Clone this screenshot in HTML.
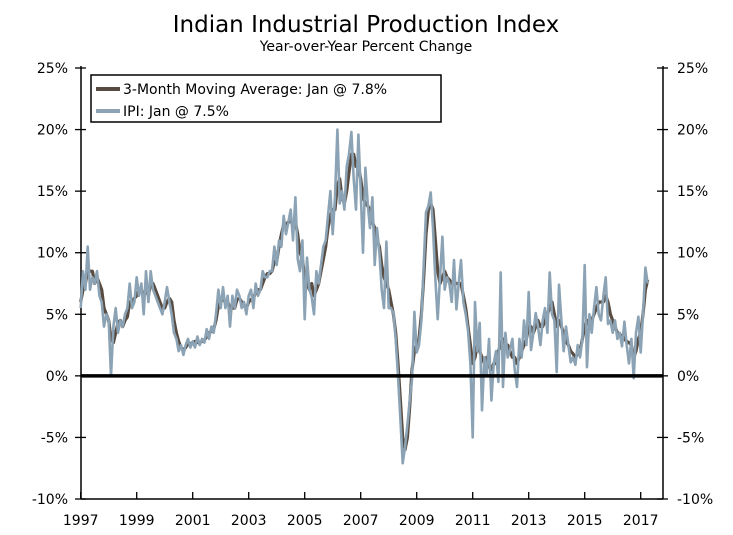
<!DOCTYPE html>
<html><head><meta charset="utf-8"><style>
body{margin:0;background:#fff;width:733px;height:535px;overflow:hidden}
svg{display:block;font-family:"DejaVu Sans","Liberation Sans",sans-serif}
</style></head><body>
<svg id="chart" width="733" height="535">
<text x="366" y="32" text-anchor="middle" font-size="23" fill="#000">Indian Industrial Production Index</text>
<text x="366" y="51" text-anchor="middle" font-size="14" fill="#000">Year-over-Year Percent Change</text>
<g id="axes"></g>
<g id="series"></g>
<g>
<rect x="91" y="75" width="350" height="47" fill="#fff" stroke="#000" stroke-width="1.5"/>
<line x1="96" y1="89" x2="120" y2="89" stroke="#584b41" stroke-width="4"/>
<text x="123" y="94" font-size="14">3-Month Moving Average: Jan @ 7.8%</text>
<line x1="96" y1="111" x2="120" y2="111" stroke="#8ba3b4" stroke-width="4"/>
<text x="123" y="116" font-size="14">IPI: Jan @ 7.5%</text>
</g>
</svg>
<script>
const yTicks=[25,20,15,10,5,0,-5,-10];
const xTickYears=[1997,1999,2001,2003,2005,2007,2009,2011,2013,2015,2017];
const ipiValues=[
5.5,8.5,7.0,10.5,7.0,8.0,7.5,8.5,6.5,6.0,4.0,5.0,
4.5,0.0,4.0,5.5,3.5,4.5,4.0,5.0,5.5,7.5,5.5,6.0,
8.0,6.5,7.5,5.0,8.5,6.0,8.5,7.0,6.5,6.0,5.5,5.0,
6.0,7.2,6.0,5.0,3.5,3.0,2.0,2.5,1.7,2.5,3.0,2.3,
2.8,2.3,3.2,2.5,3.0,2.7,3.8,3.0,4.0,3.5,5.0,7.0,
5.5,7.2,5.5,6.5,4.0,6.5,5.5,7.0,6.5,5.5,6.0,5.0,
6.5,7.0,5.5,7.5,6.5,7.0,8.5,8.0,8.0,8.5,8.5,10.5,
9.0,11.0,10.5,13.0,11.5,12.5,13.5,11.0,14.5,9.5,8.5,11.0,
4.6,9.6,7.0,6.4,5.0,8.5,7.5,9.0,10.5,11.0,13.0,15.0,
11.5,14.5,20.0,14.0,15.0,13.5,17.0,18.0,19.8,16.0,13.5,19.6,
15.0,10.0,16.9,14.0,12.0,14.5,9.0,12.0,10.0,7.0,5.5,10.9,
5.5,5.5,5.1,3.0,0.0,-3.5,-7.1,-5.8,-4.0,-2.0,-0.3,5.2,
1.9,2.5,4.5,9.0,13.3,13.8,14.9,12.0,7.8,4.6,8.0,11.3,
7.0,8.0,7.5,6.0,9.4,5.4,7.5,9.4,6.0,5.0,3.7,1.0,
-5.0,6.0,2.0,4.3,-2.8,1.5,0.0,3.0,-2.0,1.0,2.0,-0.5,
8.4,-0.9,3.5,1.5,2.1,3.0,0.5,-0.9,3.0,1.5,4.5,2.5,
6.8,2.1,3.5,5.1,4.0,2.5,4.5,5.5,3.5,8.4,5.0,4.5,
0.3,7.4,4.5,2.0,4.0,2.5,1.1,1.5,0.9,2.5,1.5,3.0,
9.0,0.7,5.0,3.5,5.5,7.2,5.0,4.5,6.5,8.0,4.2,4.5,
3.5,4.5,3.0,3.5,2.4,4.4,2.5,1.0,3.0,-0.2,3.5,4.8,
1.9,5.0,8.8,7.5];
const maValues=[
6,7,7.5,8.5,8.5,8.5,7.5,8,7.5,7,5.5,5,
4.5,3,2.7,3.5,4.3,4.5,4,4.5,4.8,6,6,6.3,
6.5,7,7,6.5,7,6.5,7.5,7.5,7,6.5,6,5.5,
5.5,6,6.3,6,4.5,3.5,2.8,2.3,2.1,2.3,2.6,2.6,
2.7,2.8,2.7,2.7,2.8,2.9,3.2,3.5,3.6,3.8,4.5,5.7,
6,6.2,6,6,5.5,5.5,5.5,6.2,6.3,6,5.7,5.5,
6,6.2,6.3,6.8,7,7,7.5,8,8.3,8.3,8.5,9.3,
9.3,10.5,11.5,12.3,12.3,12.5,12.5,12.5,12.5,11.5,10,9.5,
8,7.5,7,7.5,6.5,7,7.5,8.5,9.5,10.5,12,13,
13.5,13.5,15.5,16,14.5,14,15,16.5,18,18,17,17,
16,14.5,14,13.8,13.5,12.5,12,11,10.5,9,8,7.5,
7,6,5,3.5,1,-2,-5,-6,-5,-2.5,0.5,2,
2.5,3,5,8,11.5,13.5,14,13.5,11,8.5,7.5,8,
8.5,8,7.8,7.5,7.5,7.5,7.5,7.5,6.5,5.5,4,2.5,
1,1.5,2.5,2,1.5,1,1.5,0.8,0.5,1,1,2,
2.5,3,2.5,2.5,2,1.5,1.5,1,1.5,2,2.5,3,
4,4,3.5,4,4.5,4,4,4.5,5,5.5,6,5,
4,4.5,4,3.5,2.8,2.5,2,1.8,1.5,1.8,2,3,
4,4.5,4,4.5,5,5.5,6,6,6,6.5,6,5,
4.5,4,3.5,3.3,3.3,3,2.8,2.7,2.5,1.5,2,3,
3.5,5,7,7.8];
const startYear=1997;
const L=81,R=663,T=68,B=499;
function xScale(t){return 80.7+(t-1997)*28.0;}
function yScale(v){return T+(25-v)*(B-T)/35;}
const NS='http://www.w3.org/2000/svg';
const axes=document.getElementById('axes');
function mk(tag,attrs,parent){const e=document.createElementNS(NS,tag);for(const k in attrs)e.setAttribute(k,attrs[k]);parent.appendChild(e);return e;}
let e;
e=mk('line',{x1:L,y1:T-2,x2:L,y2:B,stroke:'#000','stroke-width':1.5},axes);


e=mk('line',{x1:R,y1:T-2,x2:R,y2:B,stroke:'#000','stroke-width':1.5},axes);


e=mk('line',{x1:L,y1:B,x2:R,y2:B,stroke:'#000','stroke-width':1.5},axes);


yTicks.forEach(v=>{
  const y=yScale(v);
  mk('line',{x1:L-6,y1:y,x2:L+5,y2:y,stroke:'#000','stroke-width':1.3},axes);
  mk('line',{x1:R-6,y1:y,x2:R+5,y2:y,stroke:'#000','stroke-width':1.3},axes);
  let t=mk('text',{x:L-13,y:y+5,'text-anchor':'end','font-size':14},axes);
  t.textContent=v+'%';
  
  
  t=mk('text',{x:R+14,y:y+5,'text-anchor':'start','font-size':14},axes);
  t.textContent=v+'%';
  
  
});
xTickYears.forEach(yr=>{
  const x=xScale(yr);
  mk('line',{x1:x,y1:B,x2:x,y2:B-7,stroke:'#000','stroke-width':1.3},axes);
  const t=mk('text',{x:x,y:B+26,'text-anchor':'middle','font-size':14},axes);
  t.textContent=yr;
  
  
});
const series=document.getElementById('series');
function pts(arr){return arr.map((v,i)=>xScale(startYear+i/12).toFixed(1)+','+yScale(v).toFixed(1)).join(' ');}
e=mk('polyline',{points:pts(maValues),fill:'none',stroke:'#584b41','stroke-width':3.2,'stroke-linejoin':'round'},series);


e=mk('polyline',{points:pts(ipiValues),fill:'none',stroke:'#8ba3b4','stroke-width':2.6,'stroke-linejoin':'round'},series);


e=mk('line',{x1:L,y1:yScale(0),x2:R,y2:yScale(0),stroke:'#000','stroke-width':3.5},series);


</script>
</body></html>
